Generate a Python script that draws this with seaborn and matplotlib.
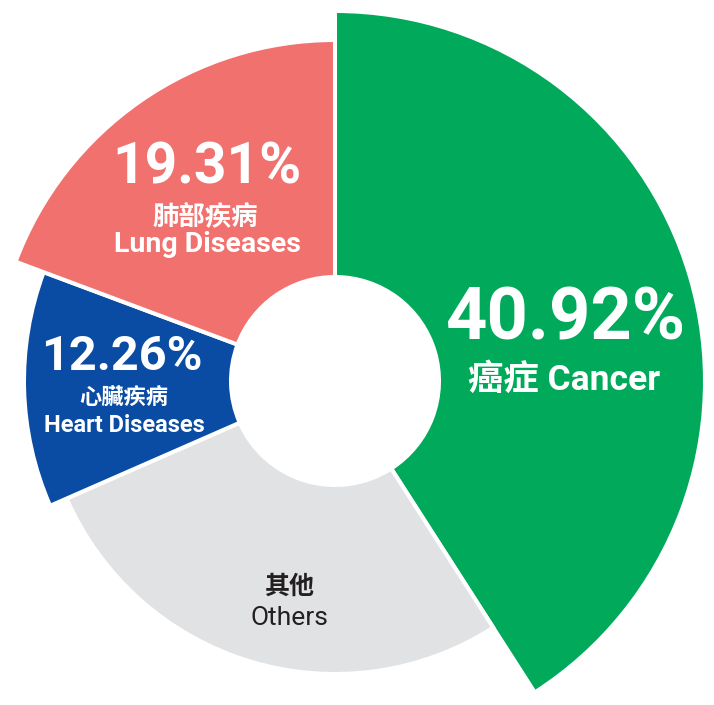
import matplotlib
matplotlib.use("Agg")
import matplotlib.pyplot as plt
import seaborn as sns

# ---- data ----
labels_zh = ["癌症", "其他", "心臟疾病", "肺部疾病"]
labels_en = ["Cancer", "Others", "Heart Diseases", "Lung Diseases"]
values = [40.92, 27.51, 12.26, 19.31]
show_pct = [True, False, True, True]

# ---- style ----
colors = ["#00AA5A", "#E1E2E4", "#0A4CA3", "#F1716E"]
radii = [370, 293, 311, 341]
inner_r = 104
W, H = 714, 705
cx, cy = 335, H - 381

sns.set_theme(style="white")
plt.rcParams["font.family"] = ["Roboto", "Noto Sans CJK TC", "DejaVu Sans"]

fig = plt.figure(figsize=(W / 100, H / 100), dpi=100)
ax = fig.add_axes([0, 0, 1, 1])

for i, (r, c) in enumerate(zip(radii, colors)):
    wedges, _ = ax.pie(
        values,
        radius=r,
        center=(cx, cy),
        startangle=90,
        counterclock=False,
        colors=colors,
        wedgeprops=dict(width=r - inner_r, edgecolor="white", linewidth=2.9),
    )
    for j, w in enumerate(wedges):
        w.set_visible(j == i)

ax.set_xlim(0, W)
ax.set_ylim(0, H)
ax.set_aspect("equal")
ax.axis("off")

fam = ["Roboto", "Noto Sans CJK TC", "DejaVu Sans"]


def px(y):
    return H - y


# Cancer
ax.text(565, px(340), f"{values[0]:.2f}%", color="white", fontsize=52,
        fontweight="bold", ha="center", va="baseline", family=fam)
ax.text(564, px(390), f"{labels_zh[0]} {labels_en[0]}", color="white",
        fontsize=25.5, fontweight="bold", ha="center", va="baseline", family=fam)

# Lung
ax.text(207, px(183), f"{values[3]:.2f}%", color="white", fontsize=41,
        fontweight="bold", ha="center", va="baseline", family=fam)
ax.text(205, px(225), labels_zh[3], color="white", fontsize=19,
        fontweight="bold", ha="center", va="baseline", family=fam)
ax.text(207, px(252), labels_en[3], color="white", fontsize=20.5,
        fontweight="bold", ha="center", va="baseline", family=fam)

# Heart
ax.text(122, px(370), f"{values[2]:.2f}%", color="white", fontsize=35,
        fontweight="bold", ha="center", va="baseline", family=fam)
ax.text(124, px(405), labels_zh[2], color="white", fontsize=16,
        fontweight="bold", ha="center", va="baseline", family=fam)
ax.text(124, px(432), labels_en[2], color="white", fontsize=17,
        fontweight="bold", ha="center", va="baseline", family=fam)

# Others
ax.text(289, px(594), labels_zh[1], color="#231F20", fontsize=18,
        fontweight="bold", ha="center", va="baseline", family=fam)
ax.text(289, px(625), labels_en[1], color="#231F20", fontsize=19,
        ha="center", va="baseline", family=fam)

fig.savefig("out.png", dpi=100, facecolor="white")
